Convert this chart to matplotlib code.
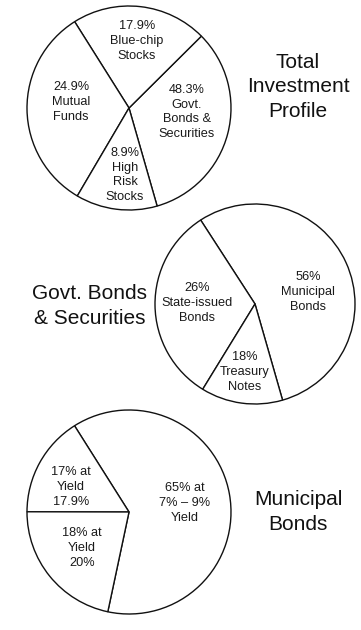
import matplotlib
matplotlib.use("Agg")
import matplotlib.pyplot as plt

plt.rcParams["font.family"] = ["Liberation Sans", "DejaVu Sans"]

# Pie 1: Total Investment Profile (wedge shares as drawn, labels as printed)
invest_labels = ["48.3%\nGovt.\nBonds &\nSecurities", "17.9%\nBlue-chip\nStocks",
                 "24.9%\nMutual\nFunds", "8.9%\nHigh\nRisk\nStocks"]
invest_drawn = [33.0, 21.5, 32.6, 12.9]

# Pie 2: Govt. Bonds & Securities
govt_labels = ["56%\nMunicipal\nBonds", "26%\nState-issued\nBonds", "18%\nTreasury\nNotes"]
govt_drawn = [54.7, 32.1, 13.2]

# Pie 3: Municipal Bonds
muni_labels = ["65% at\n7% \u2013 9%\nYield", "17% at\nYield\n17.9%", "18% at\nYield\n20%"]
muni_drawn = [62.3, 16.0, 21.7]

W, H = 361, 630
fig = plt.figure(figsize=(W / 100, H / 100), dpi=100)
ax = fig.add_axes([0, 0, 1, 1])

pies = [
    # values, labels, centre (px), radius, start angle, label positions (px), title, title pos
    (invest_drawn, invest_labels, (129, 108), 102, -74,
     [(187, 112), (137, 41), (71, 102), (125, 175)],
     "Total\nInvestment\nProfile", (298, 87)),
    (govt_drawn, govt_labels, (255, 304), 100, -74,
     [(308, 292), (197, 303), (245, 372)],
     "Govt. Bonds\n& Securities", (90, 306)),
    (muni_drawn, muni_labels, (129, 512), 102, -102,
     [(185, 503), (71, 487), (82, 548)],
     "Municipal\nBonds", (298, 512)),
]

for vals, labels, (cx, cy), r, start, lpos, title, tpos in pies:
    ax.pie(vals, center=(cx, H - cy), radius=r, startangle=start,
           counterclock=True,
           wedgeprops=dict(facecolor="white", edgecolor="#111111", linewidth=1.0))
    for lab, (lx, ly) in zip(labels, lpos):
        ax.text(lx, H - ly, lab, ha="center", va="center", fontsize=9.2,
                color="#1a1a1a", linespacing=1.28)
    ax.text(tpos[0], H - tpos[1], title, ha="center", va="center",
            fontsize=15, color="#111111", linespacing=1.36)

ax.set_xlim(0, W)
ax.set_ylim(0, H)
ax.set_aspect("equal")
ax.axis("off")

fig.savefig("out.png", dpi=100, facecolor="white")
